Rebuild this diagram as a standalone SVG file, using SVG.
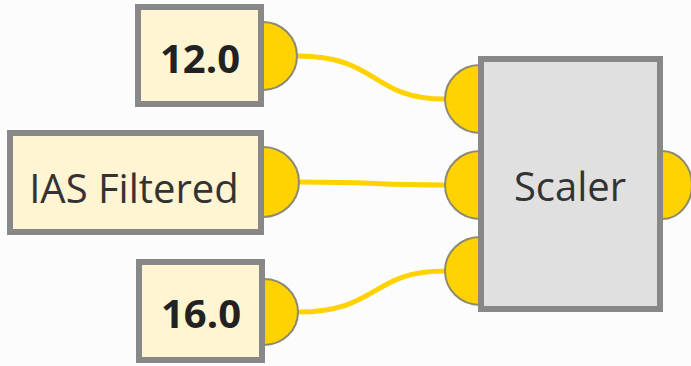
<svg xmlns="http://www.w3.org/2000/svg" width="691" height="366" viewBox="0 0 691 366">
<style>
.val{fill:#FFF5D2;stroke:#888;stroke-width:6}
.blk{fill:#E0E0E0;stroke:#888;stroke-width:6}
.port{fill:#FFD200;stroke:#8E8A70;stroke-width:2}
.wire{fill:none;stroke:#FFD200;stroke-width:5;stroke-linecap:round}
.t{font-family:"Open Sans","Noto Sans",sans-serif;font-size:40px;fill:#333}
.b{font-weight:bold;fill:#222}
</style>
<rect width="691" height="366" fill="#FCFCFC"/>
<g id="connectors">
<path class="wire" d="M297,56 C380,56 370,99 445,99"/>
<path class="wire" d="M300,182 C380,182 370,185 445,185"/>
<path class="wire" d="M297,312 C380,312 370,271 445,271"/>
</g>
<g id="n12">
<path class="port" d="M263,22 A34,34 0 0 1 263,90 Z"/>
<rect class="val" x="138" y="7" width="123" height="97"/>
<text class="t b" x="200" y="73" text-anchor="middle">12.0</text>
</g>
<g id="nIAS">
<path class="port" d="M263,147 A36,35 0 0 1 263,217 Z"/>
<rect class="val" x="10" y="133" width="251" height="99"/>
<text class="t" x="134" y="203" text-anchor="middle">IAS Filtered</text>
</g>
<g id="n16">
<path class="port" d="M264,279 A34,33 0 0 1 264,345 Z"/>
<rect class="val" x="139" y="262" width="123" height="98"/>
<text class="t b" x="201" y="328" text-anchor="middle">16.0</text>
</g>
<g id="scaler">
<path class="port" d="M480,65 A35,34 0 0 0 480,133 Z"/>
<path class="port" d="M480,151 A35,34 0 0 0 480,219 Z"/>
<path class="port" d="M480,237 A35,34 0 0 0 480,305 Z"/>
<path class="port" d="M662,151 A30,34 0 0 1 662,219 Z"/>
<rect class="blk" x="481" y="59" width="179" height="250"/>
<text class="t" x="570" y="201" text-anchor="middle">Scaler</text>
</g>
</svg>
